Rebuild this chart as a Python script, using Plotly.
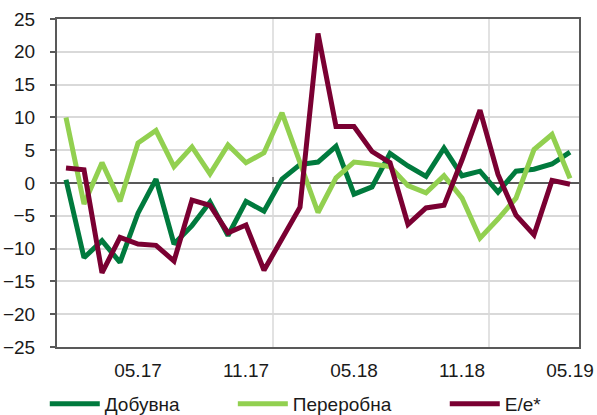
import plotly.graph_objects as go

# Monthly observations, 01.17 – 05.19
months = [
    "01.17", "02.17", "03.17", "04.17", "05.17", "06.17", "07.17", "08.17", "09.17", "10.17",
    "11.17", "12.17", "01.18", "02.18", "03.18", "04.18", "05.18", "06.18", "07.18", "08.18",
    "09.18", "10.18", "11.18", "12.18", "01.19", "02.19", "03.19", "04.19", "05.19",
]
dobuvna = [
    0.5, -11.4, -8.8, -12.1, -4.6, 0.6, -9.3, -6.5, -2.9, -8.0,
    -2.8, -4.3, 0.6, 2.8, 3.2, 5.6, -1.7, -0.6, 4.5, 2.6,
    1.0, 5.3, 1.1, 1.8, -1.4, 1.8, 2.1, 2.9, 4.7,
]
pererobna = [
    10.0, -3.2, 3.1, -2.8, 6.1, 8.0, 2.5, 5.5, 1.4, 5.8,
    3.1, 4.6, 10.7, 3.0, -4.5, 0.8, 3.2, 2.9, 2.5, -0.4,
    -1.5, 1.1, -2.3, -8.4, -5.5, -2.3, 5.1, 7.4, 0.7,
]
energy = [
    2.3, 2.0, -13.7, -8.3, -9.3, -9.5, -11.9, -2.6, -3.4, -7.6,
    -6.4, -13.3, -8.5, -3.7, 22.8, 8.6, 8.6, 4.8, 3.1, -6.3,
    -3.8, -3.4, 3.5, 11.1, 1.3, -4.9, -7.9, 0.4, -0.2,
]
series_names = ["Добувна", "Переробна", "Е/е*"]
series_colors = ["#007A3D", "#92D050", "#7A0032"]
y_ticks = [-25, -20, -15, -10, -5, 0, 5, 10, 15, 20, 25]
label_every = 6
first_label = 4

x = list(range(len(months)))
tick_pos = x[first_label::label_every]
tick_text = months[first_label::label_every]

# One legend box per series so the entries sit on a single row
legend_ids = ["legend", "legend2", "legend3"]
legend_x = [0.075, 0.39, 0.745]

fig = go.Figure()
for name, vals, col, lid in zip(series_names, [dobuvna, pererobna, energy], series_colors, legend_ids):
    fig.add_trace(go.Scatter(
        x=x, y=vals, name=name, mode="lines", legend=lid,
        line=dict(color=col, width=5, shape="linear"),
    ))

frame = "#595959"
grid = "#D9D9D9"

# Year boundaries: light vertical gridline plus a short tick on the zero axis
shapes = []
for i, m in enumerate(months):
    if m.startswith("01.") and i > 0:
        xb = i - 0.5
        shapes.append(dict(type="line", xref="x", yref="paper", x0=xb, x1=xb, y0=0, y1=1,
                           line=dict(color=grid, width=1.5), layer="below"))
        shapes.append(dict(type="line", xref="x", yref="y", x0=xb, x1=xb, y0=0, y1=0.9,
                           line=dict(color=frame, width=1.5), layer="above"))

legend_style = dict(
    orientation="h", xref="container", yref="container",
    xanchor="left", y=0.027, yanchor="middle",
    font=dict(size=19), itemwidth=50,
    tracegroupgap=0, bgcolor="rgba(0,0,0,0)",
)

fig.update_layout(
    width=597, height=415,
    margin=dict(l=57, r=18, t=19, b=68, autoexpand=False),
    paper_bgcolor="white", plot_bgcolor="white",
    font=dict(family="Liberation Sans, Arial, sans-serif", size=19, color="#1a1a1a"),
    shapes=shapes,
    showlegend=True,
    legend=dict(legend_style, x=legend_x[0]),
    legend2=dict(legend_style, x=legend_x[1]),
    legend3=dict(legend_style, x=legend_x[2]),
)
fig.update_xaxes(
    range=[-0.5, len(months) - 0.5],
    tickmode="array", tickvals=tick_pos, ticktext=tick_text,
    showgrid=False, zeroline=False, ticks="",
    showline=True, mirror=True, linecolor=frame, linewidth=2,
    ticklabelstandoff=5,
)
fig.update_yaxes(
    range=[-25, 25], tickmode="array", tickvals=y_ticks,
    showgrid=True, gridcolor=grid, gridwidth=1.5,
    zeroline=True, zerolinecolor=frame, zerolinewidth=2,
    showline=True, mirror=True, linecolor=frame, linewidth=2,
    ticks="outside", ticklen=5, tickwidth=1.5, tickcolor=frame,
    ticklabelstandoff=11,
)

fig.write_html("out.html")
